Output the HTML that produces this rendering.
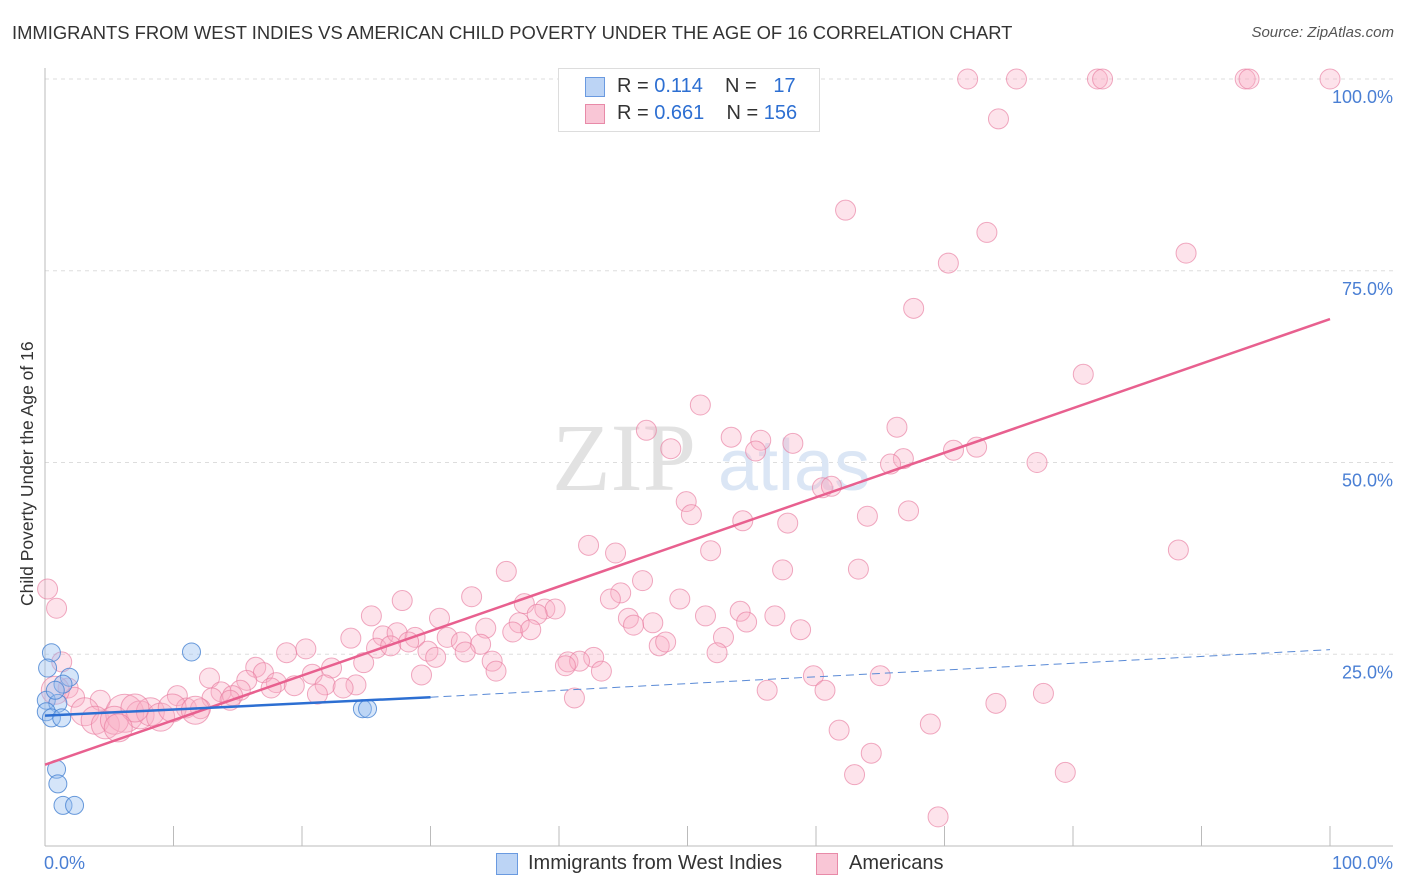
<!DOCTYPE html>
<html><head><meta charset="utf-8"><style>
body{margin:0;background:#fff;font-family:"Liberation Sans",sans-serif;}
#wrap{position:relative;width:1406px;height:892px;overflow:hidden;}
.title{position:absolute;left:12px;top:22px;font-size:18.4px;color:#333;}
.src{position:absolute;right:12px;top:24px;font-size:15px;color:#555;font-style:italic;}
</style></head><body>
<div id="wrap">
<div class="title">IMMIGRANTS FROM WEST INDIES VS AMERICAN CHILD POVERTY UNDER THE AGE OF 16 CORRELATION CHART</div>
<div class="src">Source: ZipAtlas.com</div>
<svg id="svg" width="1406" height="892" style="position:absolute;left:0;top:0"></svg>
</div>
<script>
const yTicks=[25,50,75,100];
const yTickLabels=["25.0%","50.0%","75.0%","100.0%"];
const xTickVals=[0,10,20,30,40,50,60,70,80,90,100];
const blueX=[0.5,0.2,1.9,1.4,0.1,1.0,0.1,0.5,1.3,11.4,24.7,25.1,0.9,1.0,1.4,2.3,0.8];
const blueY=[25.2,23.2,22,21.1,19,18.6,17.5,16.7,16.7,25.3,17.9,17.9,10,8.1,5.3,5.3,20.3];
const pinkX=[71.8,75.6,81.9,82.3,93.4,93.7,100,59.1,74.2,62.3,73.3,70.3,88.8,67.6,80.8,51,46.8,48.7,53.4,55.7,55.3,58.2,66.3,66.8,65.8,70.7,72.5,77.2,60.5,61.2,49.9,50.3,54.3,57.8,64,67.2,42.3,44.4,51.8,88.2,35.9,57.4,63.3,46.5,33.2,27.8,44.8,44,49.4,37.3,38.9,39.7,54.1,25.4,30.7,45.4,38.3,51.4,56.8,36.9,54.6,47.3,34.3,45.8,58.8,36.4,37.8,23.8,26.3,27.4,28.8,31.3,52.8,28.3,25.8,26.9,32.4,33.9,47.8,48.3,20.3,18.8,29.8,30.4,32.7,52.3,42.7,40.7,41.6,34.8,40.5,24.8,22.3,16.4,35.1,43.3,59.8,65,17,20.8,12.8,29.3,15.7,18,19.4,24.2,21.8,15.2,17.6,23.2,13.7,21.2,14.6,56.2,60.7,77.7,41.2,13,10.3,11,74,14.4,12.1,61.8,68.9,64.3,63,79.4,69.5,0.2,0.9,1.3,1.8,2.3,4.3,0.8,3.1,3.9,4.7,6.2,5.4,7.4,8.2,9,9.9,11.7,7,5.7];
const pinkY=[100,100,100,100,100,100,100,95,94.8,82.9,80,76,77.3,70.1,61.5,57.5,54.2,51.8,53.3,52.9,51.5,52.5,54.6,50.5,49.8,51.6,52,50,46.7,46.9,44.9,43.2,42.4,42.1,43,43.7,39.2,38.2,38.5,38.6,35.8,36,36.1,34.6,32.5,32,33,32.2,32.2,31.6,30.9,30.9,30.6,30,29.7,29.7,30.2,30,30,29.1,29.2,29.1,28.4,28.8,28.2,27.9,28.2,27.1,27.4,27.8,27.2,27.2,27.2,26.6,25.8,26.1,26.6,26.3,26.1,26.6,25.7,25.2,25.4,24.6,25.3,25.2,24.6,24,24.1,24.1,23.5,23.9,23.2,23.3,22.8,22.8,22.2,22.2,22.6,22.4,21.9,22.3,21.6,21.3,20.9,21,21,20.3,20.6,20.6,20.1,19.8,19.6,20.3,20.3,19.9,19.3,19.3,19.6,18,18.6,19,17.9,15.1,15.9,12.1,9.3,9.6,3.8,33.5,31,24,20.6,19.4,19,20.3,17.5,16.4,15.8,17.3,16.4,17.1,17.5,16.8,18,17.7,18,15.4];
const pinkBig=[0,0,0,0,0,0,0,0,0,0,0,0,0,0,0,0,0,0,0,0,0,0,0,0,0,0,0,0,0,0,0,0,0,0,0,0,0,0,0,0,0,0,0,0,0,0,0,0,0,0,0,0,0,0,0,0,0,0,0,0,0,0,0,0,0,0,0,0,0,0,0,0,0,0,0,0,0,0,0,0,0,0,0,0,0,0,0,0,0,0,0,0,0,0,0,0,0,0,0,0,0,0,0,0,0,0,0,0,0,0,0,0,0,0,0,0,0,0,0,0,0,0,0,0,0,0,0,0,0,0,0,0,0,0,0,1,1,1,1,2,1,1,1,1,1,1,1,1,1,0,1];
const pinkTrend=[10.6,68.7];
const blueTrend=[17.0,19.4,25.6];
const X=v=>45+v*12.85, Y=v=>846-v*7.67;
const s=document.getElementById('svg');const NS='http://www.w3.org/2000/svg';
function mk(t,a,p){const e=document.createElementNS(NS,t);for(const k in a)e.setAttribute(k,a[k]);(p||s).appendChild(e);return e;}
yTicks.forEach((t,i)=>{const g=mk('line',{x1:45,x2:1393,y1:Y(t),y2:Y(t),stroke:'#ddd','stroke-dasharray':'4,4'});


const l=mk('text',{x:1393,y:Y(t)+24,'text-anchor':'end','font-size':18,fill:'#4a7fd4','font-family':'Liberation Sans'});l.textContent=yTickLabels[i];

});
const ax=mk('line',{x1:45,x2:45,y1:68,y2:846,stroke:'#bbb'});


const bx=mk('line',{x1:45,x2:1393,y1:846,y2:846,stroke:'#bbb'});


xTickVals.forEach(v=>{const t=mk('line',{x1:X(v),x2:X(v),y1:826,y2:846,stroke:'#bbb'});

});
const w=mk('text',{x:552,y:490,'font-size':96,fill:'#e2e2e2','font-family':'Liberation Serif'});w.textContent='ZIP';


const w2=mk('text',{x:718,y:490,'font-size':72,fill:'#dbe6f5','font-family':'Liberation Sans'});w2.textContent='atlas';


pinkX.forEach((x,i)=>{const r=[10,14,19][pinkBig[i]||0];const c=mk('circle',{cx:X(x),cy:Y(pinkY[i]),r:r,fill:'rgba(248,175,198,0.35)',stroke:'rgba(232,125,160,0.65)','stroke-width':1});

});
blueX.forEach((x,i)=>{const c=mk('circle',{cx:X(x),cy:Y(blueY[i]),r:9,fill:'rgba(150,190,240,0.4)',stroke:'rgba(70,130,210,0.8)','stroke-width':1});

});
const pt=mk('line',{x1:X(0),y1:Y(pinkTrend[0]),x2:X(100),y2:Y(pinkTrend[1]),stroke:'#e8608f','stroke-width':2.5});


const bt=mk('line',{x1:X(0),y1:Y(blueTrend[0]),x2:X(30),y2:Y(blueTrend[1]),stroke:'#2d6fd2','stroke-width':2.5});


const bd=mk('line',{x1:X(30),y1:Y(blueTrend[1]),x2:X(100),y2:Y(blueTrend[2]),stroke:'#5a8ad6','stroke-width':1,'stroke-dasharray':'8,5'});


</script>
<div style="position:absolute;left:558px;top:68px;width:260px;height:62px;border:1px solid #ddd;background:#fff;font-size:20px;color:#333">
<div style="position:absolute;left:26px;top:8px;width:18px;height:18px;background:#bcd4f5;border:1px solid #6a9ae0"></div>
<div style="position:absolute;left:58px;top:6px">R = <span style="color:#2d6fd2">0.114</span>&nbsp;&nbsp;&nbsp; N = &nbsp;&nbsp;<span style="color:#2d6fd2">17</span></div>
<div style="position:absolute;left:26px;top:35px;width:18px;height:18px;background:#f9c6d6;border:1px solid #e88aa8"></div>
<div style="position:absolute;left:58px;top:33px">R = <span style="color:#2d6fd2">0.661</span>&nbsp;&nbsp;&nbsp; N = <span style="color:#2d6fd2">156</span></div>
</div>
<div style="position:absolute;left:17px;top:606px;transform:rotate(-90deg);transform-origin:0 0;font-size:17.5px;color:#333;white-space:nowrap">Child Poverty Under the Age of 16</div>
<div style="position:absolute;left:44px;top:853px;font-size:18px;color:#4a7fd4">0.0%</div>
<div style="position:absolute;right:13px;top:853px;font-size:18px;color:#4a7fd4">100.0%</div>
<div style="position:absolute;left:496px;top:853px;width:20px;height:20px;background:#bcd4f5;border:1px solid #6a9ae0"></div>
<div style="position:absolute;left:528px;top:852px;font-size:20px;color:#333">Immigrants from West Indies</div>
<div style="position:absolute;left:816px;top:853px;width:20px;height:20px;background:#f9c6d6;border:1px solid #e88aa8"></div>
<div style="position:absolute;left:849px;top:852px;font-size:20px;color:#333">Americans</div>
</body></html>
